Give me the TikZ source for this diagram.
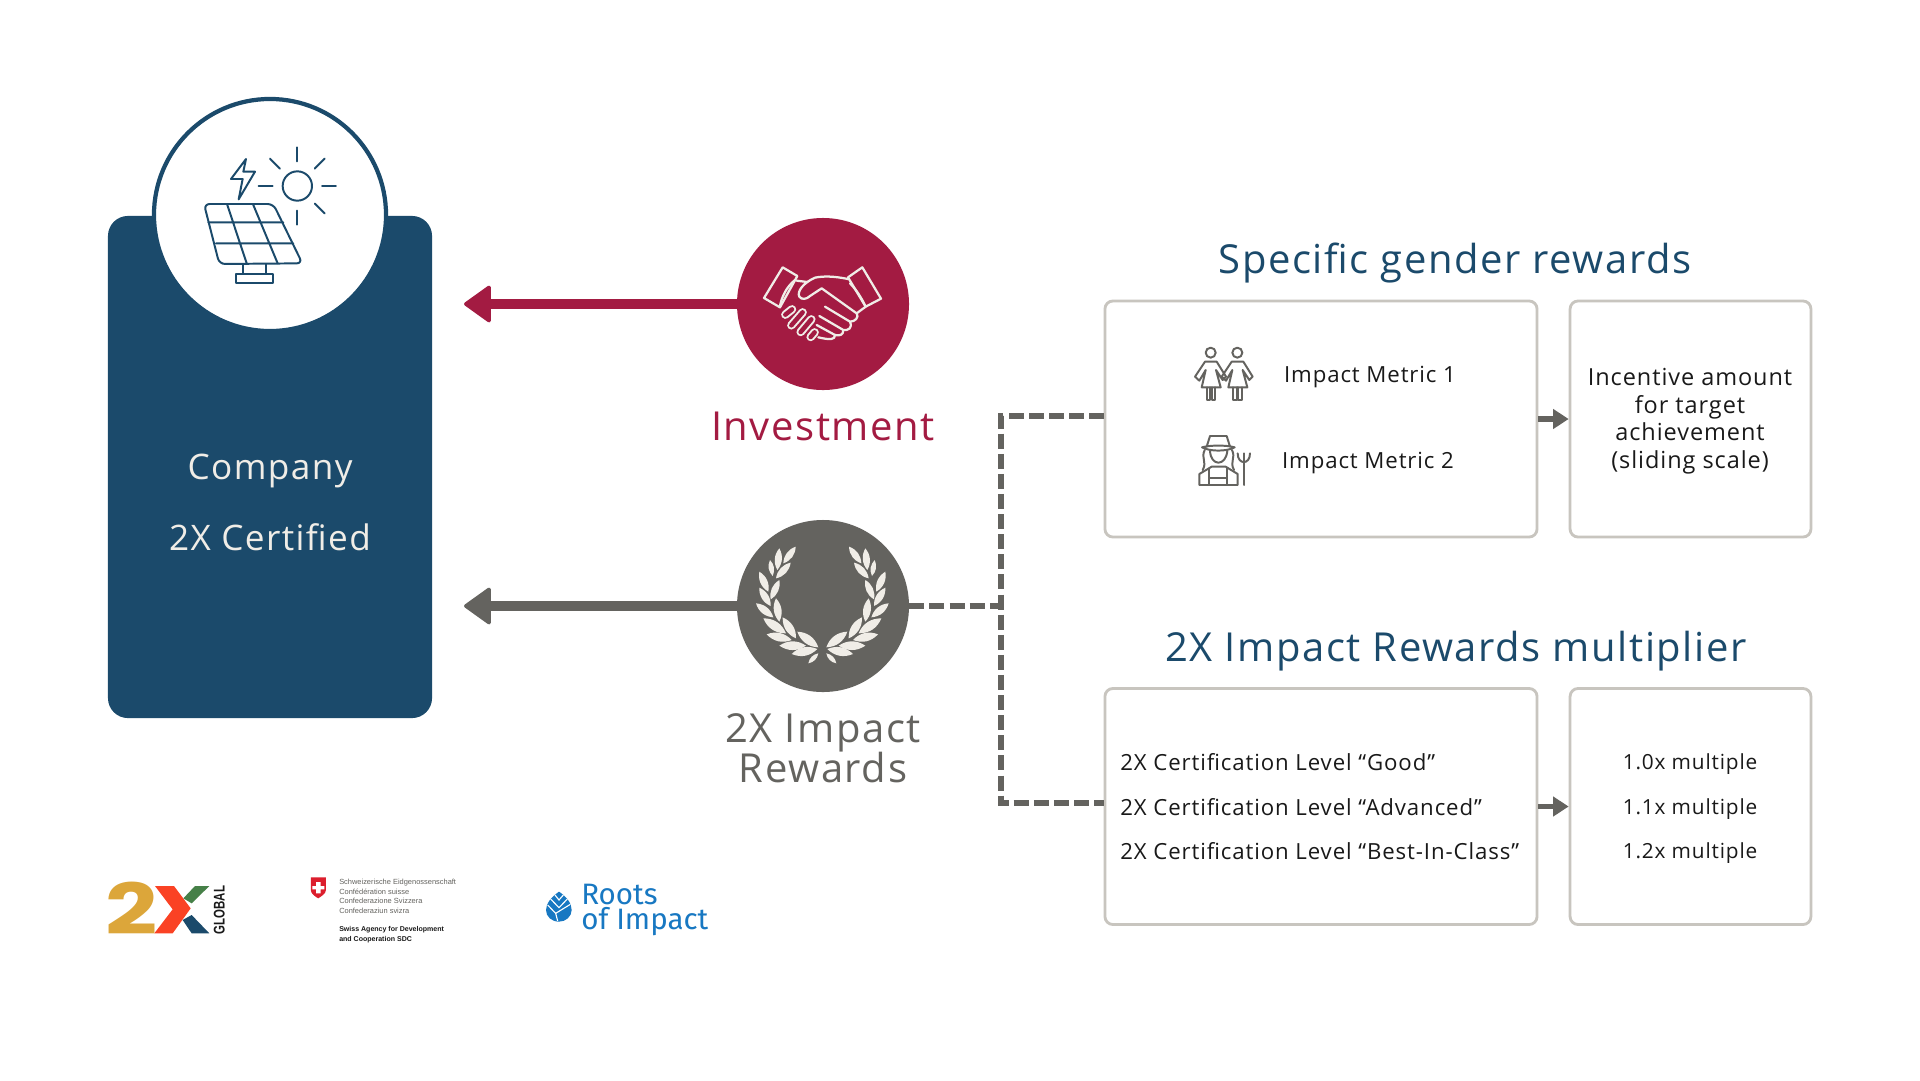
\documentclass[tikz,border=0pt]{standalone}
\usepackage{fontspec}
\usepackage{xcolor}
\usepackage{tikz}
\usetikzlibrary{arrows.meta, positioning, calc}
\setmainfont{Open Sans}[LetterSpace=4]
\newfontfamily\logofont{Liberation Sans}
\newfontfamily\twoxfont{Poppins}
\newfontfamily\rootsfont{Fira Sans}
\definecolor{NavyBlue}{RGB}{27, 74, 107}
\definecolor{CrimsonRed}{RGB}{163, 27, 66}
\definecolor{StoneGrey}{RGB}{100, 99, 95}
\definecolor{BoxBorder}{RGB}{200, 197, 191}
\definecolor{SoftWhite}{RGB}{240, 237, 231}
\definecolor{DarkText}{RGB}{25, 25, 25}
\definecolor{LogoGold}{RGB}{220, 166, 58}
\definecolor{LogoRed}{RGB}{250, 66, 36}
\definecolor{LogoGreen}{RGB}{70, 128, 72}
\definecolor{RootsBlue}{RGB}{24, 120, 194}
\definecolor{SwissRed}{RGB}{220, 30, 45}
\tikzset{
  roundcircle/.style={circle, minimum size=4.3cm, inner sep=0pt},
  rewardbox/.style={draw=BoxBorder, fill=white, rounded corners=0.2cm, line width=2pt, minimum height=5.9cm},
  widebox/.style={rewardbox, minimum width=10.8cm},
  narrowbox/.style={rewardbox, minimum width=6.02cm},
  bigarrow/.style={line width=7.1pt, -{Triangle[length=20pt, width=28pt, line width=2.5pt, round]}},
  smallarrow/.style={StoneGrey, line width=3.6pt, -{Triangle[length=11pt, width=13.5pt]}},
  dashline/.style={StoneGrey, line width=3.6pt, dash pattern=on 10.7pt off 3.6pt},
  headtext/.style={font=\fontsize{28.4}{28.5}\selectfont, text=NavyBlue},
  bodytext/.style={font=\fontsize{15.8}{19.6}\selectfont, text=DarkText, inner sep=0pt},
  iconline/.style={line width=1.4pt, line cap=round, line join=round},
  handline/.style={SoftWhite, line width=1.6pt, line cap=round, line join=round}
}
\begin{document}
\begin{tikzpicture}[x=0.025cm, y=-0.025cm]
  \useasboundingbox[fill=white] (0,0) rectangle (1920,1080);

  \node[fill=NavyBlue, rounded corners=0.5cm, minimum width=8.1cm, minimum height=12.55cm] (company) at (270,467) {};
  \node[draw=NavyBlue, fill=white, line width=3pt, circle, minimum size=5.8cm, inner sep=0pt] (solarcircle) at (270,215) {};
  \node[font=\fontsize{25}{30}\selectfont, text=SoftWhite] (companyname) at (270,471) {Company};
  \node[font=\fontsize{25}{30}\selectfont, text=SoftWhite] (companycert) at (270,537) {2X Certified};

  \begin{scope}[shift={(90,80)}, scale=1/3, NavyBlue, iconline]
    \draw (622,318) circle (44);
    \foreach \rayangle in {0,45,90,180,225,270,315} {
      \draw ($(622,318)+(\rayangle:74)$) -- ($(622,318)+(\rayangle:116)$);
    }
    \draw (468,237) -- (423,297) -- (458,297) -- (446,358) -- (495,275) -- (460,275) -- cycle;
    \draw[rounded corners=4pt] (342,372) -- (550,372) -- (637,550) -- (388,552) -- cycle;
    \draw (355,427) -- (580,427) (378,490) -- (610,490) (412,375) -- (470,550) (490,375) -- (563,550);
    \draw (458,552) -- (458,582) (527,552) -- (527,582);
    \draw (438,582) rectangle (549,610);
  \end{scope}

  \node[roundcircle, fill=CrimsonRed] (investcircle) at (823,304) {};
  \node[roundcircle, fill=StoneGrey] (impactcircle) at (823,606) {};
  \node[headtext, text=CrimsonRed, below=0.41cm of investcircle] (investlabel) {Investment};
  \node[headtext, text=StoneGrey, below=0.4cm of impactcircle, align=center] (impactlabel) {2X Impact\\Rewards};

  \begin{scope}[shift={(700,200)}, scale=1/3, handline]
    \draw (248,202) -- (292,228) -- (240,322) -- (192,294) -- cycle;
    \draw (487,202) -- (543,296) -- (497,320) -- (444,232) -- cycle;
    \draw (285,240) .. controls (260,260) and (245,290) .. (240,318);
    \draw (290,242) -- (322,246);
    \draw (444,237) .. controls (400,228) and (370,228) .. (345,233) .. controls (310,248) and (290,275) .. (298,290) .. controls (305,300) and (320,298) .. (330,288) -- (365,265) -- (470,340) .. controls (478,352) and (465,365) .. (450,365) -- (375,320);
    \draw (450,365) .. controls (458,385) and (445,392) .. (430,390) -- (358,348);
    \draw (430,390) .. controls (430,405) and (420,408) .. (405,405) -- (350,375);
    \draw (405,405) .. controls (405,420) and (390,420) .. (355,412);
    \draw (450,250) .. controls (470,270) and (485,295) .. (497,320) -- (470,340);
    \foreach \ax/\ay/\bx/\by in {256/344/276/328, 274/376/308/337, 302/396/334/358, 332/411/344/397} {
      \draw[line width=6pt] (\ax,\ay) -- (\bx,\by);
      \draw[CrimsonRed, line width=3.2pt, line cap=round] (\ax,\ay) -- (\bx,\by);
    }
  \end{scope}

  \begin{scope}[shift={(700,500)}, scale=1/3]
    \foreach \mirrorx in {1,-1} {
      \begin{scope}[shift={(367,0)}, xscale=\mirrorx, shift={(-367,0)}]
        \foreach \ax/\ay/\bx/\by in {250/190/287/140, 232/210/238/145, 228/235/272/188, 218/228/210/180, 205/275/178/215, 212/298/238/240, 212/318/178/263, 220/352/168/310, 238/365/228/295, 258/400/190/355, 288/415/248/352, 275/420/200/403, 355/442/292/395, 318/437/238/437, 352/447/275/462, 355/460/325/490} {
          \fill[SoftWhite] (\ax,\ay) to[bend left=34] (\bx,\by) to[bend left=34] (\ax,\ay);
        }
      \end{scope}
    }
  \end{scope}

  \coordinate (investend) at (464,304);
  \coordinate (impactend) at (464,606);
  \draw[bigarrow, CrimsonRed] (investcircle.west) -- (investend);
  \draw[bigarrow, StoneGrey] (impactcircle.west) -- (impactend);

  \node[headtext] (gendertitle) at (1455,263) {Specific gender rewards};
  \node[headtext] (multipliertitle) at (1456,651) {2X Impact Rewards multiplier};

  \node[widebox] (metricbox) at (1321,419) {};
  \node[narrowbox] (incentivebox) at (1690.5,419) {};
  \node[widebox] (levelbox) at (1321,806.5) {};
  \node[narrowbox] (multiplebox) at (1690.5,806.5) {};

  \coordinate (junction) at (1001,606);
  \coordinate (trunktop) at (1001,416);
  \coordinate (trunkbottom) at (1001,803);
  \coordinate (metricin) at (1104,416);
  \coordinate (levelin) at (1104,803);
  \draw[dashline] (impactcircle.east) -- (junction);
  \draw[dashline] (metricin) -- (trunktop) -- (trunkbottom) -- (levelin);

  \draw[smallarrow] (metricbox.east) -- (incentivebox.west);
  \draw[smallarrow] (levelbox.east) -- (multiplebox.west);

  \node[bodytext] (metricone) at (1370,377.5) {Impact Metric 1};
  \node[bodytext] (metrictwo) at (1368,463.5) {Impact Metric 2};
  \node[bodytext, font=\fontsize{16.7}{19.6}\selectfont, align=center] (incentivetext) at (1690,421) {Incentive amount\\for target\\achievement\\(sliding scale)};

  \node[bodytext, anchor=west] (levelgood) at (1120,762) {2X Certification Level “Good”};
  \node[bodytext, anchor=west] (leveladvanced) at (1120,807) {2X Certification Level “Advanced”};
  \node[bodytext, anchor=west] (levelbest) at (1120,851) {2X Certification Level “Best-In-Class”};
  \node[bodytext, font=\fontsize{14.8}{19.6}\selectfont] (multiplegood) at (1690,764.5) {1.0x multiple};
  \node[bodytext, font=\fontsize{14.8}{19.6}\selectfont] (multipleadvanced) at (1690,809.5) {1.1x multiple};
  \node[bodytext, font=\fontsize{14.8}{19.6}\selectfont] (multiplebest) at (1690,853.5) {1.2x multiple};

  \begin{scope}[shift={(1170,330)}, scale=1/3, StoneGrey, iconline]
    \foreach \womanx in {0,80} {
      \begin{scope}[shift={(\womanx,0)}]
        \draw (122,68) circle (15);
        \draw (105,95) -- (140,95) -- (168,140) -- (158,150) -- (138,120) -- (152,172) -- (95,172) -- (107,120) -- (88,152) -- (75,140) -- cycle;
        \draw (110,172) -- (110,210) -- (120,210) -- (120,172) (125,172) -- (125,210) -- (135,210) -- (135,172);
      \end{scope}
    }
    \draw (110,350) -- (120,318) -- (170,318) -- (180,350);
    \draw (96,352) .. controls (120,345) and (170,345) .. (194,352) .. controls (170,365) and (120,365) .. cycle;
    \draw (120,362) .. controls (122,410) and (168,410) .. (172,362);
    \draw (104,360) .. controls (92,385) and (112,395) .. (98,420);
    \draw (186,360) .. controls (198,385) and (178,395) .. (192,420);
    \draw (88,465) -- (88,432) -- (125,410) -- (167,410) -- (203,432) -- (203,465) -- cycle;
    \draw (118,415) -- (118,445) -- (172,445) -- (172,415) (118,445) -- (118,465) (172,445) -- (172,465);
    \draw (222,370) -- (222,465) (203,370) .. controls (203,405) and (240,405) .. (240,370);
  \end{scope}

  % logos along the bottom
  \begin{scope}[shift={(100,875)}, scale=1/3]
    \node[font=\twoxfont\bfseries\fontsize{50}{50}\selectfont, text=LogoGold, inner sep=0pt, xscale=1.3] (logotwo) at (94,100) {2};
    \fill[LogoRed] (165,33) -- (222,33) -- (272,100) -- (218,175) -- (163,175) -- (218,103) -- cycle;
    \fill[LogoGreen] (250,70) -- (285,33) -- (328,33) -- (275,85) -- cycle;
    \fill[NavyBlue] (248,135) -- (275,120) -- (328,175) -- (275,175) -- cycle;
    \node[font=\logofont\bfseries\fontsize{11}{11}\selectfont, text=DarkText, rotate=90, xscale=0.74, inner sep=0pt] (logoglobal) at (358,105) {GLOBAL};
  \end{scope}

  \begin{scope}[shift={(90,860)}, xscale=1/2.45, yscale=1/3]
    \fill[SwissRed] (541,52) -- (578,52) -- (578,90) .. controls (578,102) and (565,110) .. (559,115) .. controls (553,110) and (541,102) .. (541,90) -- cycle;
    \fill[white] (554,66) rectangle (565,100) (545,78) rectangle (574,88);
    \node[font=\logofont\fontsize{5.3}{6.9}\selectfont, text=StoneGrey, anchor=north west, align=left, inner sep=0pt] (swissnames) at (610,56) {Schweizerische Eidgenossenschaft\\Confédération suisse\\Confederazione Svizzera\\Confederaziun svizra};
    \node[font=\logofont\bfseries\fontsize{5}{7}\selectfont, text=DarkText, anchor=north west, align=left, inner sep=0pt] (swissagency) at (610,199) {Swiss Agency for Development\\and Cooperation SDC};
  \end{scope}

  \begin{scope}[shift={(535,875)}, scale=1/3]
    \fill[RootsBlue] (72,50) .. controls (95,65) and (110,85) .. (110,105) .. controls (110,125) and (92,140) .. (72,140) .. controls (50,140) and (33,125) .. (33,105) .. controls (33,85) and (50,65) .. (72,50) -- cycle;
    \draw[white, line width=0.8pt] (38,90) -- (62,115) -- (68,138) (62,115) -- (106,88) (47,72) -- (72,98) -- (97,72) (60,60) -- (72,75) -- (85,60);
    \node[font=\rootsfont\fontsize{21}{17.8}\selectfont, text=RootsBlue, anchor=west, align=left, inner sep=0pt] (rootsname) at (138,104) {Roots\\of Impact};
  \end{scope}
\end{tikzpicture}
\end{document}
